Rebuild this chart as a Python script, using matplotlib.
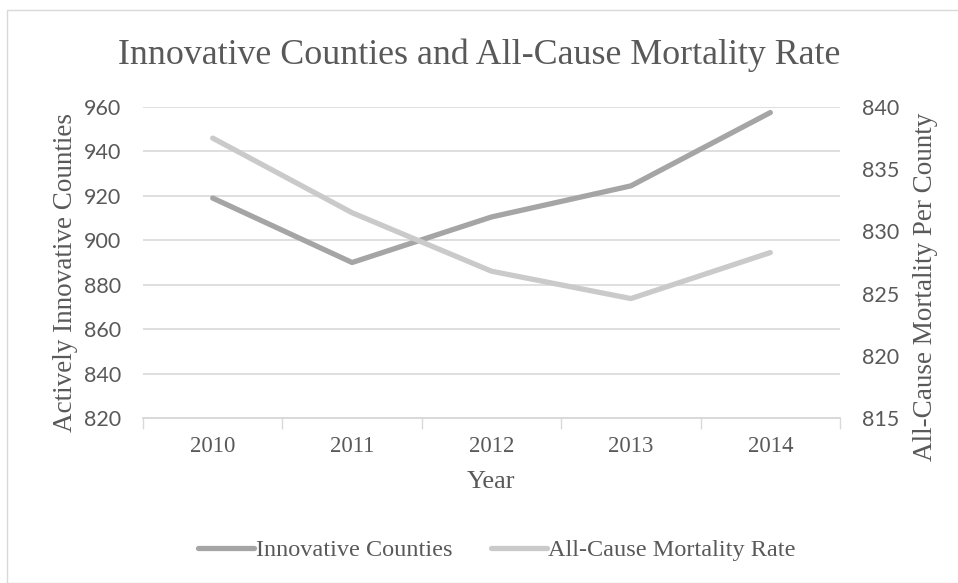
#!/usr/bin/env python3
"""Innovative counties vs all-cause mortality, Excel-style dual-axis line chart."""

import matplotlib

matplotlib.use("Agg")
import matplotlib.pyplot as plt
from matplotlib.patches import Rectangle

years = ["2010", "2011", "2012", "2013", "2014"]
innovative_counties = [919, 890, 910.5, 924.5, 957.5]
mortality_rate = [837.5, 831.5, 826.8, 824.6, 828.3]

left_ticks = [820, 840, 860, 880, 900, 920, 940, 960]
right_ticks = [815, 820, 825, 830, 835, 840]

TEXT = "#595959"
GRID = "#d9d9d9"
DARK_LINE = "#a5a5a5"
LIGHT_LINE = "#cacaca"
SANS = ["Lato", "DejaVu Sans"]

plt.rcParams["font.family"] = ["Liberation Serif", "DejaVu Serif"]

fig = plt.figure(figsize=(9.58, 5.83), dpi=100)
fig.patches.append(
    Rectangle((7 / 958, 0.0), 1.0, 1 - 10 / 583, transform=fig.transFigure,
              fill=False, edgecolor="#d9d9d9", linewidth=1.0)
)

ax = fig.add_axes([143 / 958, 1 - 418 / 583, (840 - 143) / 958, (418 - 107) / 583])
ax2 = ax.twinx()

x = list(range(len(years)))
ax.plot(x, innovative_counties, color=DARK_LINE, linewidth=3.8,
        solid_capstyle="round", solid_joinstyle="round", zorder=3)
ax2.plot(x, mortality_rate, color=LIGHT_LINE, linewidth=3.8,
         solid_capstyle="round", solid_joinstyle="round", zorder=3)

ax.set_xlim(-0.5, len(years) - 0.5)
ax.set_ylim(820, 960)
ax2.set_ylim(815, 840)
ax.set_yticks(left_ticks)
ax2.set_yticks(right_ticks)
for a in (ax, ax2):
    for lab in a.get_yticklabels():
        lab.set_family(SANS)

ax.set_xticks(x)
ax.set_xticklabels(years)
ax.set_xticks([i - 0.5 for i in range(len(years) + 1)], minor=True)
ax.tick_params(axis="x", which="major", length=0, pad=13, labelsize=16.5, labelcolor=TEXT)
ax.tick_params(axis="x", which="minor", length=8, width=1.0, color=GRID)
ax.tick_params(axis="y", length=0, pad=16, labelsize=15.5, labelcolor=TEXT)
ax2.tick_params(axis="y", length=0, pad=16, labelsize=15.5, labelcolor=TEXT)

ax.grid(axis="y", color=GRID, linewidth=1.2)
ax.set_axisbelow(True)
for a in (ax, ax2):
    for side in ("left", "right", "top"):
        a.spines[side].set_visible(False)
    a.spines["bottom"].set_color(GRID)
    a.spines["bottom"].set_linewidth(1.2)

ax.set_xlabel("Year", fontsize=19, color=TEXT)
ax.xaxis.set_label_coords(0.5, -(482 - 418) / (418 - 107), transform=ax.transAxes)
ax.xaxis.label.set_va("center")

ax.set_ylabel("Actively Innovative Counties", fontsize=19.5, color=TEXT)
ax.yaxis.set_label_coords(-(143 - 66) / (840 - 143), (418 - 273) / (418 - 107))
ax.yaxis.label.set_va("center")
ax2.set_ylabel("All-Cause Mortality Per County", fontsize=19.5, color=TEXT)
ax2.yaxis.set_label_coords(1 + (926 - 840) / (840 - 143), (418 - 287) / (418 - 107))
ax2.yaxis.label.set_va("center")
ax2.yaxis.label.set_rotation(90)

fig.text(0.5, 1 - 55 / 583, "Innovative Counties and All-Cause Mortality Rate",
         ha="center", va="center", fontsize=25.8, color=TEXT)

handles = [
    plt.Line2D([], [], color=DARK_LINE, linewidth=3.8, solid_capstyle="round"),
    plt.Line2D([], [], color=LIGHT_LINE, linewidth=3.8, solid_capstyle="round"),
]
fig.legend(handles, ["Innovative Counties", "All-Cause Mortality Rate"],
           loc="center", bbox_to_anchor=(497 / 958, 1 - 550 / 583), ncol=2,
           frameon=False, fontsize=17.5, labelcolor=TEXT,
           handlelength=2.3, handletextpad=0.05, columnspacing=1.6)

fig.savefig("out.png", dpi=100)
